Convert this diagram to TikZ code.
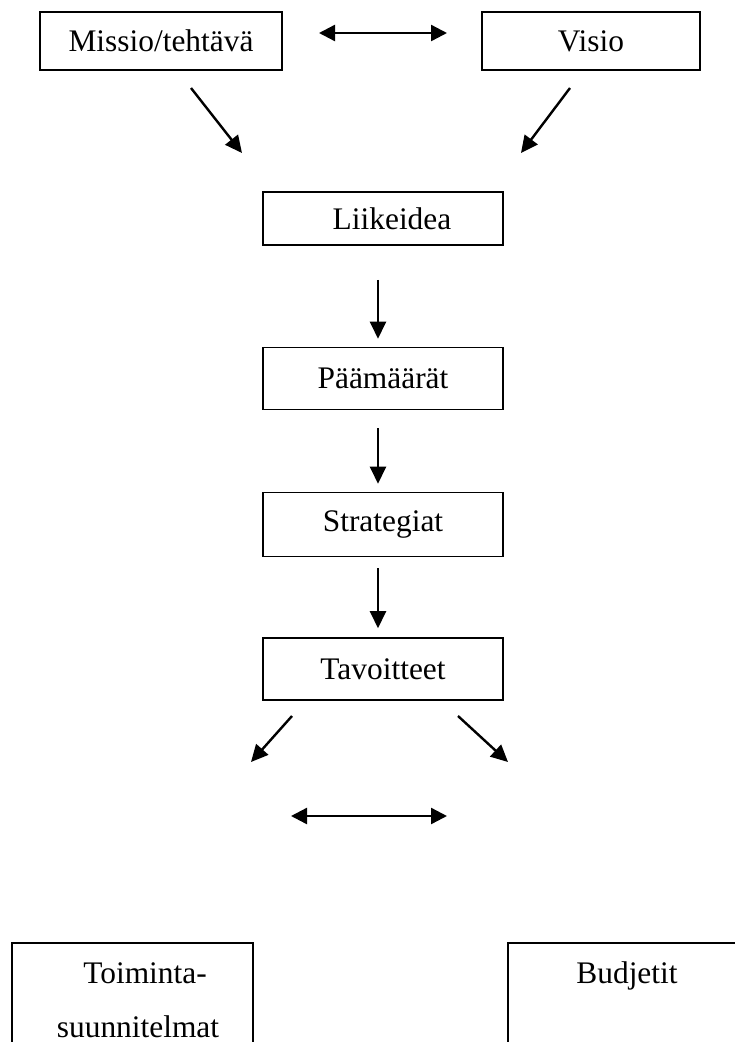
\documentclass[tikz,border=0pt]{standalone}
\usepackage{fontspec}
\setmainfont{Liberation Serif}
\usetikzlibrary{arrows.meta}
\newcommand{\bw}{240pt}

\begin{document}
\begin{tikzpicture}[x=1pt, y=-1pt,
    box/.style={draw, rectangle, line width=1.6pt, minimum width=\bw, minimum height=56pt, inner sep=0pt, font=\fontsize{31.4}{40}\selectfont},
    txt/.style={inner sep=0pt, anchor=base, font=\fontsize{31.4}{40}\selectfont},
    arr/.style={-{Triangle[length=17pt,width=16pt]}, line width=2.4pt},
    darr/.style={{Triangle[length=16pt,width=16pt]}-{Triangle[length=16pt,width=16pt]}, line width=2.4pt}]
    \useasboundingbox (0,0) rectangle (734,1042);

    % Top row
    \node[box, minimum width=242pt, minimum height=58pt] (missio) at (161,41) {Missio/tehtävä};
    \node[box, minimum width=218pt, minimum height=58pt] (visio) at (591,41) {Visio\hspace{18pt}};

    % Middle column
    \node[box, minimum height=53pt] (liike) at (383,218.5) {\hspace{18pt}Liikeidea};
    \node[box, minimum height=62pt] (paam) at (383,378.5) {Päämäärät};
    \node[box, minimum height=64pt] (strat) at (383,524.5) {Strategiat};
    \node[box, minimum height=62pt] (tavo) at (383,669) {Tavoitteet};

    % Bottom row
    \node[box, anchor=north west, minimum width=241pt, minimum height=150pt] (toim) at (11,942) {};
    \node[box, anchor=north west, minimum width=260pt, minimum height=150pt] (budj) at (507,942) {};
    \node[txt] (toim-1) at (145,983) {Toiminta-};
    \node[txt] (toim-2) at (138,1037) {suunnitelmat};
    \node[txt] (budj-1) at (627,983) {Budjetit};

    % Free arrow ends
    \coordinate (top-l) at (319,33);
    \coordinate (top-r) at (447,33);
    \coordinate (mis-a) at (191,88);
    \coordinate (mis-b) at (242,153);
    \coordinate (vis-a) at (570,88);
    \coordinate (vis-b) at (521,153);
    \coordinate (tav-la) at (292,716);
    \coordinate (tav-lb) at (251,762);
    \coordinate (tav-ra) at (458,716);
    \coordinate (tav-rb) at (508,762);
    \coordinate (bot-l) at (291,816);
    \coordinate (bot-r) at (447,816);

    \draw[darr] (top-l) -- (top-r);
    \draw[arr] (mis-a) -- (mis-b);
    \draw[arr] (vis-a) -- (vis-b);
    \draw[arr, shorten <=34pt, shorten >=8pt] ([xshift=-5pt]liike.south) -- ([xshift=-5pt]paam.north);
    \draw[arr, shorten <=18pt, shorten >=8pt] ([xshift=-5pt]paam.south) -- ([xshift=-5pt]strat.north);
    \draw[arr, shorten <=11pt, shorten >=9pt] ([xshift=-5pt]strat.south) -- ([xshift=-5pt]tavo.north);
    \draw[arr] (tav-la) -- (tav-lb);
    \draw[arr] (tav-ra) -- (tav-rb);
    \draw[darr] (bot-l) -- (bot-r);

\end{tikzpicture}
\end{document}
